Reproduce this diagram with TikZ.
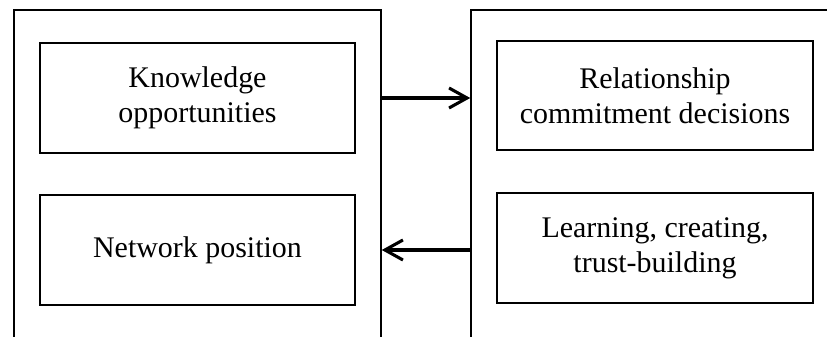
\documentclass[tikz,border=0pt]{standalone}
\usepackage{fontspec}
\setmainfont{Liberation Serif}
\usetikzlibrary{arrows.meta}
\tikzset{
  outerbox/.style={draw,line width=1.1pt,inner sep=0pt},
  innerbox/.style={draw,line width=1.6pt,inner sep=0pt,align=center,
    font=\fontsize{21.3}{25}\selectfont},
  flow/.style={-{Straight Barb[length=0.45cm,width=0.5cm,line width=2.2pt]},line width=2.2pt}
}
\begin{document}
\begin{tikzpicture}
\useasboundingbox(0,0)rectangle(20.675,8.4);
\clip(0,0)rectangle(20.675,8.4);
\node[outerbox,minimum width=9.175cm,minimum height=9.15cm](outL)at(4.9375,3.575){};%left frame
\node[outerbox,minimum width=10.225cm,minimum height=9.15cm](outR)at(16.8875,3.575){};%right frame
\node[innerbox,minimum width=7.875cm,minimum height=2.75cm](know)at(4.9375,5.95){Knowledge\\opportunities};
\node[innerbox,minimum width=7.875cm,minimum height=2.75cm](netpos)at(4.9375,2.15){Network position};
\node[innerbox,minimum width=7.9cm,minimum height=2.725cm](commit)at(16.375,6.0125){Relationship\\commitment decisions};
\node[innerbox,minimum width=7.9cm,minimum height=2.75cm](learn)at(16.375,2.2){Learning, creating,\\trust-building};
\draw[flow](know -| outL.east)--(know -| outR.west);
\draw[flow](netpos -| outR.west)--(netpos -| outL.east);
\end{tikzpicture}
\end{document}
